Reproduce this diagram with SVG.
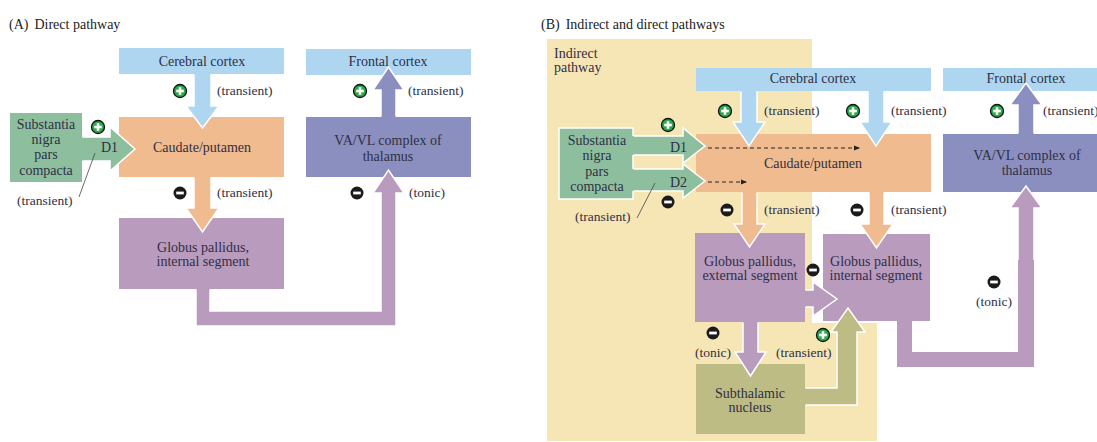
<svg xmlns="http://www.w3.org/2000/svg" xmlns:xlink="http://www.w3.org/1999/xlink" width="1097" height="442" viewBox="0 0 1097 442">
<defs>
<style>
text{font-family:"Liberation Serif","DejaVu Serif",serif;font-size:14px;fill:#2f2f45}
.c{text-anchor:middle}
.lbl{font-size:13.5px}
.title{font-size:14px;fill:#222}
.blue{fill:#aed6f1}
.orange{fill:#f0bb8f}
.purple{fill:#b99bbe}
.thal{fill:#8b8fbf}
.green{fill:#8dbf9f}
.olive{fill:#bcbc84}
.edge{fill:none;stroke:#fff;stroke-width:1.5;stroke-linejoin:miter}
.dash{fill:none;stroke:#222;stroke-width:1;stroke-dasharray:4 3}
</style>
<g id="plus"><circle r="6.5" fill="#2ba84a" stroke="#111" stroke-width="1.3"/><rect x="-3.8" y="-1.3" width="7.6" height="2.6" fill="#fff"/><rect x="-1.3" y="-3.8" width="2.6" height="7.6" fill="#fff"/></g>
<g id="minus"><circle r="6.5" fill="#1b1b1b"/><rect x="-3.8" y="-1.4" width="7.6" height="2.8" fill="#fff"/></g>
<marker id="ah" markerWidth="6" markerHeight="6" refX="5" refY="3" orient="auto" markerUnits="userSpaceOnUse"><path d="M0,0.5 L6,3 L0,5.5 Z" fill="#222"/></marker>
</defs>

<!-- Panel titles -->
<text class="title" x="9" y="29">(A)<tspan dx="6">Direct pathway</tspan></text>
<text class="title" x="541" y="29">(B)<tspan dx="6">Indirect and direct pathways</tspan></text>

<!-- Indirect pathway background -->
<g id="indirect-bg">
<path d="M547,39 H812 V323 H877 V441 H547 Z" fill="#f6e6b6"/>
<text x="554" y="58">Indirect</text>
<text x="554" y="72">pathway</text>
</g>

<!-- Panel A nodes -->
<g id="a-cortex"><rect class="blue" x="119" y="48" width="165" height="26"/><text class="c" x="202" y="66">Cerebral cortex</text></g>
<g id="a-caudate"><rect class="orange" x="119" y="117" width="165" height="60"/><text class="c" x="202" y="152">Caudate/putamen</text></g>
<g id="a-gpi"><rect class="purple" x="119" y="218" width="165" height="71"/><text class="c" x="203" y="252">Globus pallidus,</text><text class="c" x="203" y="266">internal segment</text></g>
<g id="a-frontal"><rect class="blue" x="306" y="49" width="165" height="26"/><text class="c" x="388" y="66">Frontal cortex</text></g>
<g id="a-thalamus"><rect class="thal" x="306" y="117" width="165" height="60"/><text class="c" x="388" y="145">VA/VL complex of</text><text class="c" x="388" y="161">thalamus</text></g>
<g id="a-snc"><rect class="green" x="10" y="113" width="72" height="69"/><text class="c" x="46" y="129">Substantia</text><text class="c" x="46" y="144">nigra</text><text class="c" x="46" y="159">pars</text><text class="c" x="46" y="175">compacta</text></g>

<!-- Panel B nodes -->
<g id="b-cortex"><rect class="blue" x="696" y="68" width="235" height="23"/><text class="c" x="813" y="83">Cerebral cortex</text></g>
<g id="b-caudate"><rect class="orange" x="696" y="134" width="235" height="58"/><text class="c" x="813" y="168">Caudate/putamen</text></g>
<g id="b-frontal"><rect class="blue" x="943" y="68" width="160" height="23"/><text class="c" x="1026" y="83">Frontal cortex</text></g>
<g id="b-thalamus"><rect class="thal" x="943" y="134" width="160" height="58"/><text class="c" x="1027" y="160">VA/VL complex of</text><text class="c" x="1027" y="175">thalamus</text></g>
<g id="b-snc"><rect class="green" x="559" y="128" width="74" height="71" stroke="#fff" stroke-width="1.5"/><text class="c" x="597" y="145">Substantia</text><text class="c" x="597" y="160">nigra</text><text class="c" x="597" y="176">pars</text><text class="c" x="597" y="191">compacta</text></g>
<g id="b-gpe"><rect class="purple" x="695" y="233" width="110" height="89"/><text class="c" x="750" y="266">Globus pallidus,</text><text class="c" x="750" y="280">external segment</text></g>
<g id="b-gpi"><rect class="purple" x="822" y="233" width="109" height="89" stroke="#fff" stroke-width="2"/><text class="c" x="876" y="266">Globus pallidus,</text><text class="c" x="876" y="280">internal segment</text></g>
<g id="b-stn"><rect class="olive" x="696" y="364" width="109" height="70"/><text class="c" x="750" y="398">Subthalamic</text><text class="c" x="750" y="412">nucleus</text></g>

<!-- Connectors -->
<g id="connectors">
<path class="blue" d="M194,73 V106 H186 L202.5,128 L219,106 H211 V73 Z"/>
<path class="edge" d="M194,74.5 V106 H186 L202.5,128 L219,106 H211 V74.5"/>
<path class="orange" d="M194,176 V208 H186 L202.5,232 L219,208 H211 V176 Z"/>
<path class="edge" d="M194,177.5 V208 H186 L202.5,232 L219,208 H211 V177.5"/>
<path class="purple" d="M196,288 V326 H396 V193 H404 L388.5,170 L373,193 H381 V311 H210 V288 Z"/>
<path class="edge" d="M196,289.5 V326 H396 V193 H404 L388.5,170 L373,193 H381 V311 H210 V289.5"/>
<path class="thal" d="M381,118 V90 H373 L388.5,67 L404,90 H396 V118 Z"/>
<path class="edge" d="M381,116.5 V90 H373 L388.5,67 L404,90 H396 V116.5"/>
<path class="green" d="M81,137 H110 V127 L135,149 L110,171 V161 H81 Z"/>
<path class="edge" d="M82.5,137 H110 V127 L135,149 L110,171 V161 H82.5"/>

<path class="blue" d="M741,90 V122 H733 L749,146 L765,122 H757 V90 Z"/>
<path class="edge" d="M741,91.5 V122 H733 L749,146 L765,122 H757 V91.5"/>
<path class="blue" d="M868,90 V122 H860 L876,146 L892,122 H884 V90 Z"/>
<path class="edge" d="M868,91.5 V122 H860 L876,146 L892,122 H884 V91.5"/>
<path class="orange" d="M742,191 V224 H734 L749.5,247 L765,224 H757 V191 Z"/>
<path class="edge" d="M742,192.5 V224 H734 L749.5,247 L765,224 H757 V192.5"/>
<path class="orange" d="M869,191 V224 H860 L876.5,248 L893,224 H884 V191 Z"/>
<path class="edge" d="M869,192.5 V224 H860 L876.5,248 L893,224 H884 V192.5"/>
<path class="green" d="M631,136 H683 V128 L705,146 L683,163 V155 H631 Z"/>
<path class="edge" d="M633.5,136 H683 V128 L705,146 L683,163 V155 H633.5"/>
<path class="green" d="M631,169 H683 V164 L705,181 L683,198 V191 H631 Z"/>
<path class="edge" d="M633.5,169 H683 V164 L705,181 L683,198 V191 H633.5"/>
<path class="purple" d="M804,290 H813 V282 L837,299 L813,316 V307 H804 Z"/>
<path class="edge" d="M805.5,290 H813 V282 L837,299 L813,316 V307 H805.5"/>
<path class="purple" d="M743,321 V352 H735 L750.5,376 L766,352 H758 V321 Z"/>
<path class="edge" d="M743,322.5 V352 H735 L750.5,376 L766,352 H758 V322.5"/>
<path class="olive" d="M804,388 H837 V332 H831 L848,308 L865,332 H857 V405 H804 Z"/>
<path class="edge" d="M805.5,388 H837 V332 H831 L848,308 L865,332 H857 V405 H805.5"/>
<path class="purple" d="M897,320 V367 H1034 V208 H1042 L1026,186 L1010,208 H1018 V352 H912 V320 Z"/>
<path class="edge" d="M1034,260 V208 H1042 L1026,186 L1010,208 H1018 V260"/>
<path class="thal" d="M1018,135 V105 H1010 L1026,83 L1042,105 H1034 V135 Z"/>
<path class="edge" d="M1018,133.5 V105 H1010 L1026,83 L1042,105 H1034 V133.5"/>
<line class="dash" x1="708" y1="148" x2="859" y2="148" marker-end="url(#ah)"/>
<line class="dash" x1="708" y1="182" x2="746" y2="182" marker-end="url(#ah)"/>
<line x1="79" y1="197" x2="95" y2="153" stroke="#444" stroke-width="0.8"/>
<line x1="637" y1="218" x2="655" y2="183" stroke="#444" stroke-width="0.8"/>
</g>

<!-- Connector labels -->
<g id="labels">
<use xlink:href="#plus" x="180" y="91"/><text class="lbl" x="217" y="95">(transient)</text>
<use xlink:href="#plus" x="98" y="127"/><text x="101" y="152">D1</text>
<text class="lbl" x="17" y="205">(transient)</text>
<use xlink:href="#minus" x="180" y="193"/><text class="lbl" x="217" y="197">(transient)</text>
<use xlink:href="#plus" x="360" y="91"/><text class="lbl" x="408" y="95">(transient)</text>
<use xlink:href="#minus" x="357" y="193"/><text class="lbl" x="409" y="197">(tonic)</text>

<use xlink:href="#plus" x="725" y="111"/><text class="lbl" x="764" y="115">(transient)</text>
<use xlink:href="#plus" x="853" y="111"/><text class="lbl" x="891" y="115">(transient)</text>
<use xlink:href="#plus" x="997" y="111"/><text class="lbl" x="1043" y="115">(transient)</text>
<use xlink:href="#plus" x="668" y="125"/><text x="670" y="152">D1</text>
<text x="670" y="187">D2</text>
<use xlink:href="#minus" x="668" y="202"/>
<text class="lbl" x="575" y="221">(transient)</text>
<use xlink:href="#minus" x="727" y="210"/><text class="lbl" x="764" y="214">(transient)</text>
<use xlink:href="#minus" x="857" y="210"/><text class="lbl" x="891" y="214">(transient)</text>
<use xlink:href="#minus" x="813" y="270"/>
<use xlink:href="#minus" x="713" y="333"/><text class="lbl" x="695" y="357">(tonic)</text>
<use xlink:href="#plus" x="823" y="335"/><text class="lbl" x="776" y="357">(transient)</text>
<use xlink:href="#minus" x="994" y="282"/><text class="lbl c" x="994" y="306">(tonic)</text>
</g>
</svg>
